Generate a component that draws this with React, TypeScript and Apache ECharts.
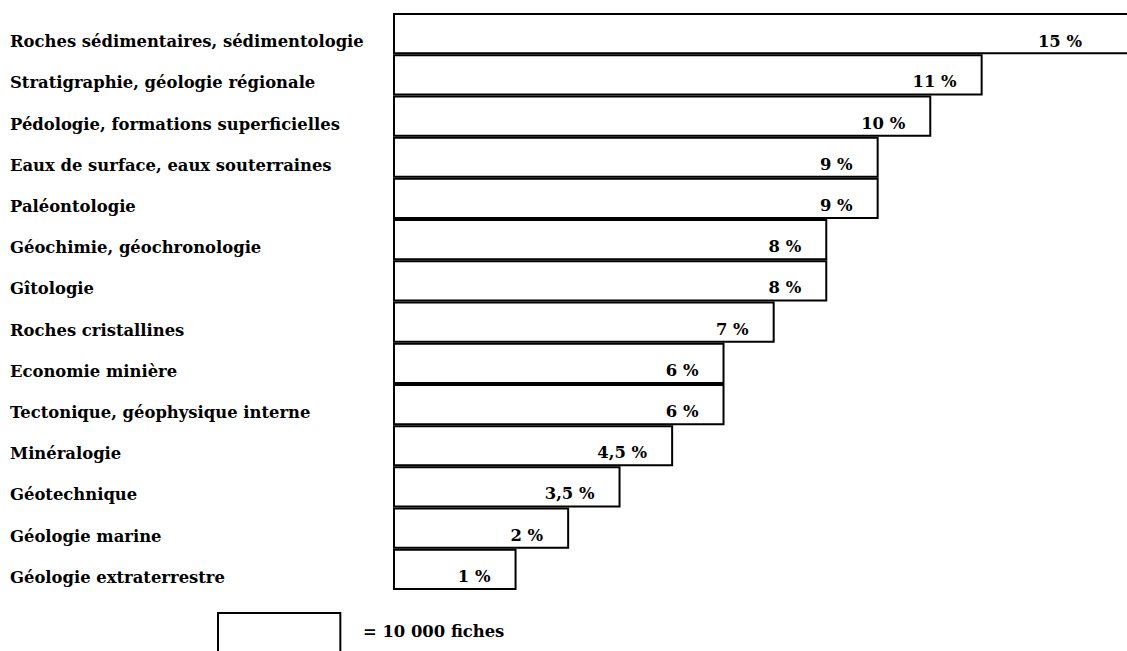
import React, { useEffect, useRef } from "react";
import * as echarts from "echarts";

const categories = [
  "Roches sédimentaires, sédimentologie",
  "Stratigraphie, géologie régionale",
  "Pédologie, formations superficielles",
  "Eaux de surface, eaux souterraines",
  "Paléontologie",
  "Géochimie, géochronologie",
  "Gîtologie",
  "Roches cristallines",
  "Economie minière",
  "Tectonique, géophysique interne",
  "Minéralogie",
  "Géotechnique",
  "Géologie marine",
  "Géologie extraterrestre",
];
const percentLabels = ["15 %", "11 %", "10 %", "9 %", "9 %", "8 %", "8 %", "7 %", "6 %", "6 %", "4,5 %", "3,5 %", "2 %", "1 %"];
const fiches = [66000, 48200, 44000, 39700, 39700, 35500, 35500, 31200, 27100, 27100, 22900, 18600, 14400, 10100];
const keyValue = 10000;
const keyLabel = "= 10 000 fiches";
const axisMax = 60000;

const FONT = "'DejaVu Serif', serif";
const FS = 16.4;

export default function App() {
  const ref = useRef<HTMLDivElement>(null);
  useEffect(() => {
    if (!ref.current) return;
    const chart = echarts.init(ref.current, null, { renderer: "svg" });
    const option: any = {
      animation: false,
      backgroundColor: "#fff",
      grid: { left: 393, right: 0, top: 13, bottom: 61, containLabel: false },
      xAxis: { type: "value", min: 0, max: axisMax, show: false },
      yAxis: {
        type: "category",
        inverse: true,
        data: categories,
        axisLine: { show: false },
        axisTick: { show: false },
        splitLine: { show: false },
        axisLabel: {
          align: "left",
          verticalAlign: "top",
          lineHeight: 16,
          margin: 383,
          color: "#000",
          fontFamily: FONT,
          fontSize: FS,
          fontWeight: "bold",
        },
      },
      series: [
        {
          type: "bar",
          clip: false,
          barCategoryGap: "0%",
          itemStyle: { color: "#fff", borderColor: "#000", borderWidth: 2 },
          label: {
            show: true,
            position: "insideRight",
            distance: 26,
            offset: [0, 7],
            color: "#000",
            fontFamily: FONT,
            fontSize: FS,
            fontWeight: "bold",
          },
          data: fiches.map((v, i) => {
            const item: any = { value: v, label: { formatter: percentLabels[i] } };
            if (i === 0) {
              item.label = {
                formatter: percentLabels[i],
                position: [689, 28],
                align: "right",
                verticalAlign: "middle",
                offset: [0, 0],
              };
            }
            return item;
          }),
        },
      ],
    };
    chart.setOption(option);
    const x0 = chart.convertToPixel({ xAxisIndex: 0 }, 0) as number;
    const x1 = chart.convertToPixel({ xAxisIndex: 0 }, keyValue) as number;
    chart.setOption({
      graphic: [
        {
          type: "rect",
          left: 217,
          top: 612,
          shape: { x: 0, y: 0, width: x1 - x0, height: 45 },
          style: { fill: "#fff", stroke: "#000", lineWidth: 2 },
        },
        {
          type: "text",
          left: 363,
          top: 623,
          style: {
            text: keyLabel,
            fill: "#000",
            font: `bold ${FS}px ${FONT}`,
          },
        },
      ],
    });
    return () => chart.dispose();
  }, []);
  return (
    <div
      ref={ref}
      style={{ position: "fixed", left: 0, top: 0, width: 1127, height: 651, background: "#fff" }}
    />
  );
}
